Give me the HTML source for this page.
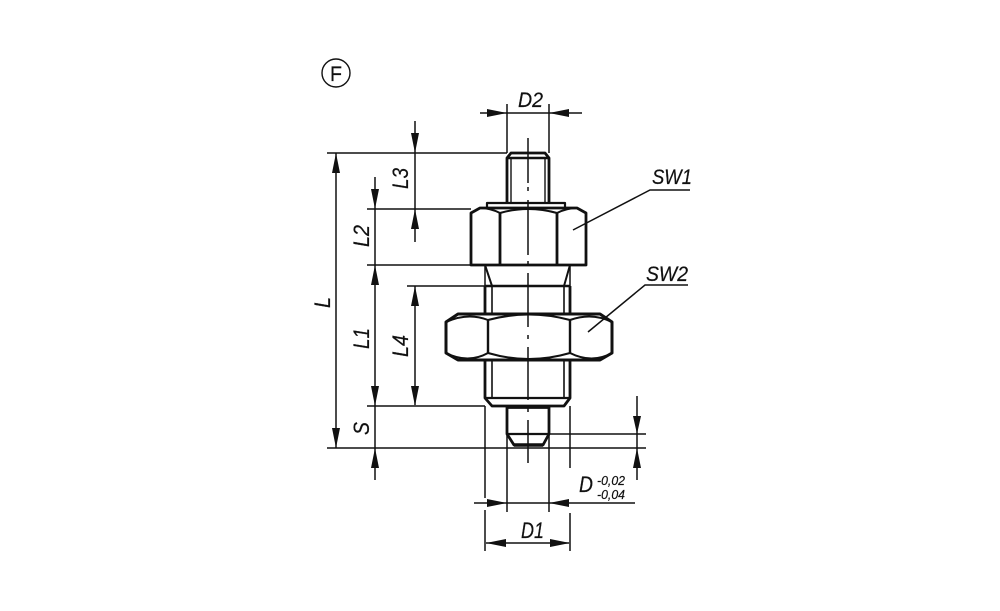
<!DOCTYPE html>
<html>
<head>
<meta charset="utf-8">
<style>
html,body{margin:0;padding:0;background:#fff;}
svg{display:block;filter:blur(0.3px);}
text{font-family:"Liberation Sans",sans-serif;font-style:italic;fill:#111;stroke:#111;stroke-width:0.2;}
</style>
</head>
<body>
<svg width="1000" height="611" viewBox="0 0 1000 611" xmlns="http://www.w3.org/2000/svg">
<!-- F symbol -->
<circle cx="336" cy="73" r="14" fill="none" stroke="#111" stroke-width="1.4"/>
<text x="330" y="81" font-size="21" style="font-style:normal" textLength="12" lengthAdjust="spacingAndGlyphs">F</text>

<!-- thin lines: extension -->
<g stroke="#111" stroke-width="1.5" fill="none">
<path d="M327 153H507M367 209H471M367 265H485M407 286H485M367 406H485M327 448H646M549 434H646"/>
<path d="M507 104V153M549 104V153M485 406V498M570 406V468M507 434V512M549 434V512"/>
<path d="M485 510V551M570 513V551"/>
<!-- leaders -->
<path d="M573 230L650 190H690M588 332L645 285H688"/>
<!-- dim lines -->
<path d="M480 113H582M474 503H635M486 543H569"/>
<path d="M336 153V448M415 121V242M375 177V480M415 286V405M637 396V480"/>
</g>

<!-- arrowheads -->
<g fill="#111">
<path d="M507 113L487 109V117ZM549 113L569 109V117Z"/>
<path d="M507 503L487 499V507ZM549 503L569 499V507Z"/>
<path d="M486 543L506 539V547ZM570 543L550 539V547Z"/>
<path d="M336 153L332 173H340ZM336 448L332 428H340Z"/>
<path d="M415 153L411 133H419ZM415 209L411 229H419Z"/>
<path d="M375 209L371 189H379ZM375 265L371 285H379ZM375 406L371 386H379ZM375 448L371 468H379Z"/>
<path d="M415 286L411 306H419ZM415 406L411 386H419Z"/>
<path d="M637 434L633 416H641ZM637 448L633 468H641Z"/>
</g>

<!-- part: heavy -->
<g stroke="#111" stroke-width="2.8" fill="none" stroke-linejoin="round">
<!-- top pin -->
<path d="M507 203V158L511 153H545L549 158V203"/>
<path d="M507 158H549" stroke-width="2.4"/>
<path d="M487 207V203H565V207" stroke-width="2.2"/>
<!-- upper hex -->
<path d="M471 265V213L480 208H577L586 213V265Z"/>
<path d="M500 265V213M557 265V213"/>
<path d="M500 213Q528 205 557 213M480 208Q490 208 500 213M557 213Q567 208 577 208" stroke-width="2"/>
<!-- body -->
<path d="M485 265L492 286M570 265L564 286" stroke-width="2"/>
<path d="M485 265V286M570 265V286" stroke-width="1.5"/>
<path d="M485 286H570" stroke-width="2.4"/>
<path d="M485 286V314M570 286V314M485 360V398L492 406H564L570 398V360"/>
<path d="M492 286V314M564 286V314M492 360V398M564 360V398" stroke-width="1.6"/>
<path d="M485 398H570" stroke-width="2.2"/>
<!-- lower hex -->
<path d="M446 322L458 314H600L612 322V353L600 360H458L446 353Z" stroke-width="3"/>
<path d="M488 320V353M570 320V353" stroke-width="2.4"/>
<path d="M488 320Q529 309 570 320M488 353Q529 365 570 353M446 322Q468 312 488 320M446 353Q468 364 488 353M570 320Q592 312 612 322M570 353Q592 364 612 353" stroke-width="2"/>
<!-- lower pin -->
<path d="M507 407H549" stroke-width="3.8"/>
<path d="M507 407V434L514 445H543L549 434V407"/>
<path d="M507 434H549" stroke-width="2.2"/>
<path d="M514 445H543" stroke-width="3.4"/>
</g>
<!-- thread lines top pin -->
<g stroke="#111" stroke-width="1.4" fill="none">
<path d="M511 158V203M545 158V203"/>
</g>
<!-- center line -->
<path d="M528 138V183M528 187V191M528 200V255M528 261V265M528 273V327M528 335V339M528 347V400M528 408V412M528 420V463" stroke="#111" stroke-width="1.5" fill="none"/>

<!-- labels -->
<text x="518" y="107" font-size="21" textLength="25" lengthAdjust="spacingAndGlyphs">D2</text>
<text x="652" y="184" font-size="21" textLength="40" lengthAdjust="spacingAndGlyphs">SW1</text>
<text x="646" y="281" font-size="21" textLength="42" lengthAdjust="spacingAndGlyphs">SW2</text>
<text x="521" y="538" font-size="22" textLength="23" lengthAdjust="spacingAndGlyphs">D1</text>
<text x="579" y="492" font-size="22" textLength="14" lengthAdjust="spacingAndGlyphs">D</text>
<text x="597" y="485" font-size="13" textLength="28" lengthAdjust="spacingAndGlyphs">-0,02</text>
<text x="597" y="499" font-size="13" textLength="28" lengthAdjust="spacingAndGlyphs">-0,04</text>
<text transform="translate(408,189) rotate(-90)" font-size="22" textLength="21" lengthAdjust="spacingAndGlyphs">L3</text>
<text transform="translate(369,247) rotate(-90)" font-size="22" textLength="22" lengthAdjust="spacingAndGlyphs">L2</text>
<text transform="translate(330,308) rotate(-90)" font-size="22" textLength="11" lengthAdjust="spacingAndGlyphs">L</text>
<text transform="translate(369,349) rotate(-90)" font-size="22" textLength="21" lengthAdjust="spacingAndGlyphs">L1</text>
<text transform="translate(408,357) rotate(-90)" font-size="22" textLength="22" lengthAdjust="spacingAndGlyphs">L4</text>
<text transform="translate(369,435) rotate(-90)" font-size="22" textLength="13" lengthAdjust="spacingAndGlyphs">S</text>
</svg>
</body>
</html>
